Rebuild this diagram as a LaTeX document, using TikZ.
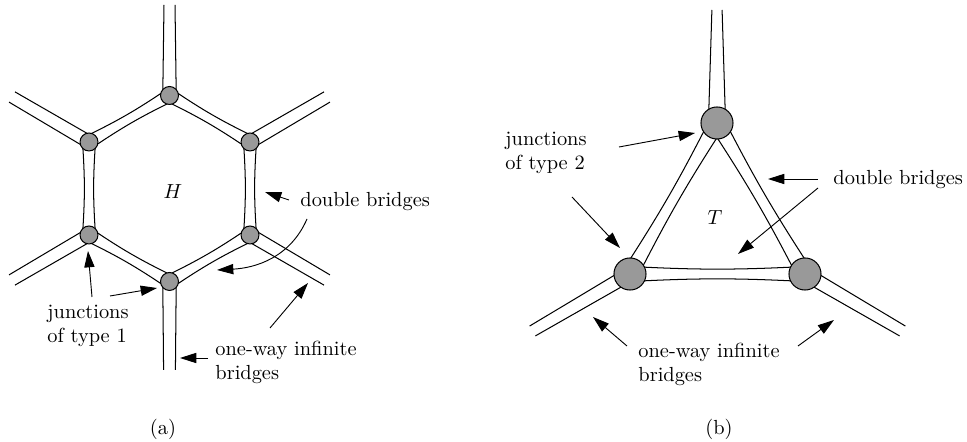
\documentclass[tikz,border=0pt]{standalone}
\usetikzlibrary{calc,arrows.meta,backgrounds}
\newcommand{\twinbridge}[4]{%
  \draw[br] ($(#1)!#3!90:(#2)$) to[bend right=#4] ($(#2)!#3!-90:(#1)$);
  \draw[br] ($(#1)!#3!-90:(#2)$) to[bend left=#4] ($(#2)!#3!90:(#1)$);}
\newcommand{\openbridge}[4]{%
  \draw[br] ($(#1)!#3!90:(#2)$) -- ($(#2)!#4!-90:(#1)$);
  \draw[br] ($(#1)!#3!-90:(#2)$) -- ($(#2)!#4!90:(#1)$);}
\begin{document}
\begin{tikzpicture}[x=0.49pt,y=-0.49pt,
  jA/.style={circle,draw=black,fill=black!40,line width=0.5pt,minimum size=8.8pt,inner sep=0pt},
  jB/.style={jA,minimum size=15.7pt},
  br/.style={line width=0.5pt},
  arr/.style={line width=0.45pt,-{Triangle[length=8pt,width=5pt]}},
  lab/.style={anchor=base west,align=left,inner sep=0pt}]
\useasboundingbox (0,0) rectangle (967,442);

% ---------- (a) hexagon ----------
\node[jA] (t)  at (169.5,95.5) {};
\node[jA] (ul) at (89,142) {};
\node[jA] (ur) at (250,142) {};
\node[jA] (ll) at (89,235) {};
\node[jA] (lr) at (250,235) {};
\node[jA] (b)  at (169.5,281.5) {};
\coordinate (et)  at (169.5,5);
\coordinate (eb)  at (169.5,370);
\coordinate (eul) at (12,97);
\coordinate (eur) at (327,97);
\coordinate (ell) at (12,280);
\coordinate (elr) at (327,280);

\begin{pgfonlayer}{background}
  \twinbridge{t}{ul}{3.2pt}{4}
  \twinbridge{ul}{ll}{3.2pt}{4}
  \twinbridge{ll}{b}{3.2pt}{4}
  \twinbridge{b}{lr}{3.2pt}{4}
  \twinbridge{lr}{ur}{3.2pt}{4}
  \twinbridge{ur}{t}{3.2pt}{4}
  \openbridge{t}{et}{3.3pt}{2.7pt}
  \openbridge{b}{eb}{3.3pt}{2.9pt}
  \openbridge{ul}{eul}{3.2pt}{2.9pt}
  \openbridge{ur}{eur}{3.2pt}{2.9pt}
  \openbridge{ll}{ell}{3.2pt}{2.9pt}
  \openbridge{lr}{elr}{3.2pt}{2.9pt}
\end{pgfonlayer}

\node (H) at (173,192) {$H$};
\node[lab] (dba) at (300,207) {double bridges};
\node[lab] (jta) at (47,343) {junctions\\of type 1};
\node[lab] (owa) at (215,380) {one-way infinite\\bridges};
\node[anchor=base] (capa) at (163,435) {(a)};

\coordinate (a1s) at (289,200); \coordinate (a1e) at (265,192);
\coordinate (a2s) at (307,219); \coordinate (a2e) at (217,270);
\coordinate (a3s) at (92,297);  \coordinate (a3e) at (88,251);
\coordinate (a4s) at (110,296); \coordinate (a4e) at (157,288);
\coordinate (a5s) at (208,358); \coordinate (a5e) at (180,358);
\coordinate (a6s) at (270,328); \coordinate (a6e) at (308,283);
\draw[arr] (a1s) -- (a1e);
\draw[arr] (a2s) .. controls (290,258) and (255,268) .. (a2e);
\draw[arr] (a3s) -- (a3e);
\draw[arr] (a4s) -- (a4e);
\draw[arr] (a5s) -- (a5e);
\draw[arr] (a6s) -- (a6e);

% ---------- (b) triangle ----------
\node[jB] (T)  at (717,123) {};
\node[jB] (BL) at (630,274) {};
\node[jB] (BR) at (805,274) {};
\coordinate (eT)  at (717,10);
\coordinate (eBL) at (532.5,331);
\coordinate (eBR) at (902.5,331);

\begin{pgfonlayer}{background}
  \twinbridge{T}{BL}{3.9pt}{3}
  \twinbridge{BL}{BR}{3.7pt}{3}
  \twinbridge{BR}{T}{3.9pt}{3}
  \openbridge{T}{eT}{4.2pt}{2.5pt}
  \openbridge{BL}{eBL}{3.4pt}{2.8pt}
  \openbridge{BR}{eBR}{3.4pt}{2.8pt}
\end{pgfonlayer}

\node (Tl) at (715,218) {$T$};
\node[lab] (jtb) at (505,170) {junctions\\of type 2};
\node[lab] (dbb) at (833,185) {double bridges};
\node[lab] (owb) at (638,382) {one-way infinite\\bridges};
\node[anchor=base] (capb) at (719,435) {(b)};

\coordinate (b1s) at (619,147); \coordinate (b1e) at (695,133);
\coordinate (b2s) at (572,197); \coordinate (b2e) at (620,248);
\coordinate (b3s) at (818,179); \coordinate (b3e) at (768,179);
\coordinate (b4s) at (818,188); \coordinate (b4e) at (738,254);
\coordinate (b5s) at (627,346); \coordinate (b5e) at (593,317);
\coordinate (b6s) at (798,346); \coordinate (b6e) at (834,320);
\draw[arr] (b1s) -- (b1e);
\draw[arr] (b2s) -- (b2e);
\draw[arr] (b3s) -- (b3e);
\draw[arr] (b4s) -- (b4e);
\draw[arr] (b5s) -- (b5e);
\draw[arr] (b6s) -- (b6e);
\end{tikzpicture}
\end{document}
